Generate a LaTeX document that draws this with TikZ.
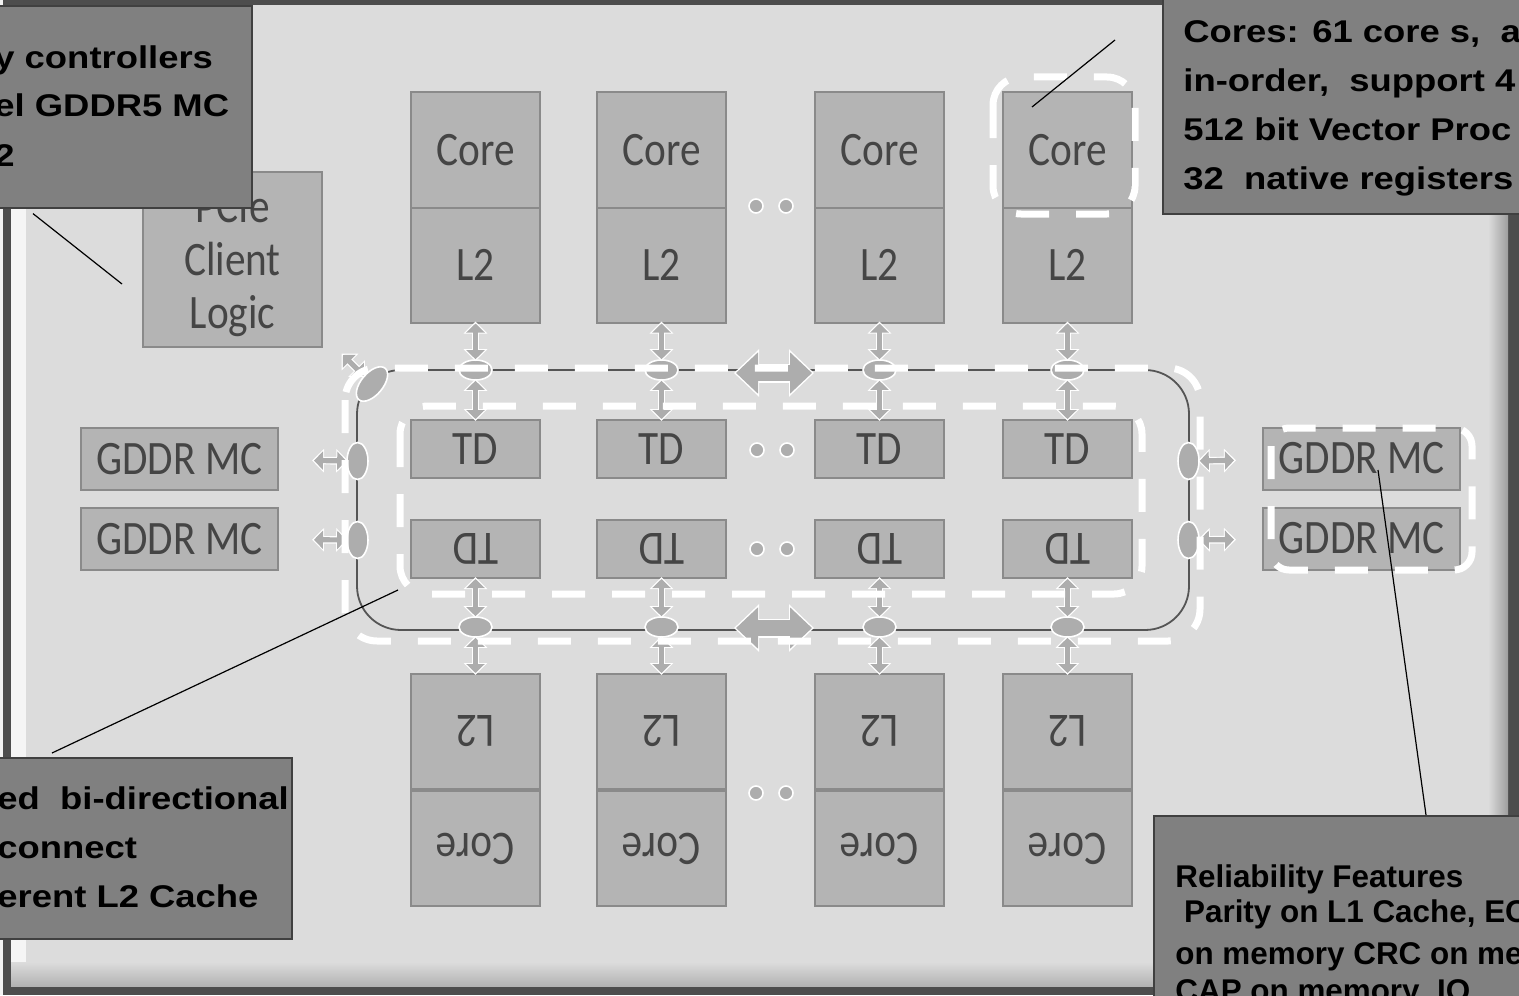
\documentclass[tikz,border=0pt]{standalone}
\usepackage{fontspec}
\setmainfont{Liberation Sans}
\newfontfamily\chipfont[FakeStretch=0.86]{Carlito}
\newfontfamily\notewide[FakeStretch=1.16]{Liberation Sans}
\newfontfamily\notefont{Liberation Sans}
\usepackage{tikz}
\usetikzlibrary{arrows.meta,positioning,shapes.geometric,calc}
\definecolor{chipbg}{HTML}{DCDCDC}
\definecolor{framedk}{HTML}{4D4D4D}
\definecolor{blockfill}{HTML}{B4B4B4}
\definecolor{blockline}{HTML}{8A8A8A}
\definecolor{blocktext}{HTML}{454545}
\definecolor{partgray}{HTML}{ADADAD}
\definecolor{notefill}{HTML}{808080}
\definecolor{ringline}{HTML}{555555}

\begin{document}
\begin{tikzpicture}[x=0.5pt,y=-0.5pt,>=Latex]
      \tikzset{blk/.style={draw=blockline,fill=blockfill,line width=1pt,inner sep=0pt,text=blocktext,align=center,font=\chipfont\fontsize{24}{26.5}\selectfont,minimum width=64.5pt,minimum height=57.5pt},
        td/.style={blk,minimum height=29pt},mc/.style={blk,minimum width=98.5pt,minimum height=31pt},
        joint/.style={ellipse,draw=white,line width=0.8pt,fill=partgray,inner sep=0pt,minimum width=16.5pt,minimum height=10pt},
        sjoint/.style={joint,minimum width=10.5pt,minimum height=18.5pt},
        dot/.style={circle,draw=white,line width=0.8pt,fill=partgray,inner sep=0pt,minimum size=7pt},
        arr/.style={draw=partgray,line width=2.6pt,{Triangle[width=9pt,length=4.5pt]}-{Triangle[width=9pt,length=4.5pt]}},
        arrw/.style={draw=white,line width=3.8pt,shorten <=-1pt,shorten >=-1pt,{Triangle[width=11.5pt,length=6pt]}-{Triangle[width=11.5pt,length=6pt]}},
        big/.style={draw=partgray,line width=8pt,{Triangle[width=20pt,length=11pt]}-{Triangle[width=20pt,length=11pt]}},
        bigw/.style={draw=white,line width=9.5pt,shorten <=-1pt,shorten >=-1pt,{Triangle[width=23pt,length=12.5pt]}-{Triangle[width=23pt,length=12.5pt]}},
        hl/.style={draw=white,line width=3.5pt,dash pattern=on 16.5pt off 13.5pt,rounded corners=14pt},
        note/.style={draw=black!75,line width=0.8pt,fill=notefill,inner sep=0pt},
        notetext/.style={inner sep=0pt,align=left,text=black,font=\notewide\bfseries\fontsize{15.7}{24.5}\selectfont},
        lead/.style={draw=black,line width=0.6pt}}
      \useasboundingbox (0,0) rectangle (1519,995);\clip (0,0) rectangle (1519,995);
      % chip frame
      \fill[framedk] (0,0) rectangle (1519,995);\fill[white!90!gray] (0,0) rectangle (3,995);\fill[chipbg] (11,5) rectangle (1508,986);
      \fill[white!92!gray] (11,5) rectangle (26,962);\shade[left color=chipbg,right color=black!38] (1488,5) rectangle (1508,986);\shade[top color=chipbg,bottom color=black!30] (11,962) rectangle (1508,986);
      \draw[ringline,line width=0.9pt,rounded corners=22pt] (357,370) rectangle (1189,630);
      % blocks
      \node[blk,minimum width=89.5pt,minimum height=87.5pt,text depth=0pt] (pcie) at (232.5,259.5) {PCIe\\Client\\Logic};
      \node[mc] (gl1) at (179.5,459) {GDDR MC};\node[mc] (gl2) at (179.5,539) {GDDR MC};
      \node[mc] (gr1) at (1361.5,458.5) {GDDR MC};\node[mc] (gr2) at (1361.5,538.5) {GDDR MC};
      \foreach \i/\x in {1/475.5,2/661.5,3/879.5,4/1067.5}{
        \node[blk] (k\i) at (\x,150) {Core};\node[blk,below=-1pt of k\i] (m\i) {L2};
        \node[td] (t\i) at (\x,449) {TD};\node[td,rotate=180] (u\i) at (\x,549) {TD};
        \node[blk,rotate=180] (v\i) at (\x,731.5) {L2};\node[blk,rotate=180] (w\i) at (\x,848.5) {Core};
        \node[joint] (ea\i) at (\x,370) {};\node[joint] (eb\i) at (\x,627) {};
        \foreach \a/\b in {m\i/ea\i,ea\i/t\i,u\i/eb\i,eb\i/v\i}{\draw[arrw] (\a)--(\b);\draw[arr] (\a)--(\b);}
      }
      \node[sjoint] (el1) at (357.5,461) {};\node[sjoint] (el2) at (357.5,540) {};
      \node[sjoint] (er1) at (1188.5,461) {};\node[sjoint] (er2) at (1188.5,540) {};
      \node[joint,minimum width=20.5pt,minimum height=11pt,rotate=50] (ec) at (372,384) {};
      \foreach \a/\b/\s in {el1/gl1/17.5,el2/gl2/17.5,er1/gr1/14,er2/gr2/14}{\draw[arrw,shorten >=\s pt-1pt] (\a)--(\b);\draw[arr,shorten >=\s pt] (\a)--(\b);}
      \coordinate (cx) at (343,355);\draw[arrw] (ec)--(cx);\draw[arr] (ec)--(cx);
      \coordinate (ha) at (736,373);\coordinate (hb) at (812,373);\coordinate (hc) at (736,628);\coordinate (hd) at (812,628);
      \foreach \a/\b in {ha/hb,hc/hd}{\draw[bigw] (\a)--(\b);\draw[big] (\a)--(\b);}
      \foreach \i/\x/\y in {1/756/206,2/786/206,3/757/450,4/787/450,5/757/549,6/787/549,7/756/793,8/786/793}{\node[dot] (d\i) at (\x,\y) {};}
      % highlights
      \draw[hl] (993,77) rectangle (1135,214);\draw[hl,rounded corners=16pt] (345,368) rectangle (1200,641);
      \draw[hl] (400,406) rectangle (1142,594);\draw[hl,rounded corners=9pt] (1271,428) rectangle (1472,570);
      % callouts
      \coordinate (p1) at (122,284);\coordinate (p2) at (1115,40);\coordinate (p3) at (398,590);
      \node[note,minimum width=150pt,minimum height=101pt,anchor=north east] (c1) at (253,5) {};
      \node[notetext,anchor=base west] (n1) at (-6,166) {y controllers\\el GDDR5 MC\\2};
      \node[note,minimum width=200pt,minimum height=109pt,anchor=north west] (c2) at (1162,-5) {};
      \node[notetext,anchor=base west] (n2) at (1183,189) {Cores: 61 core s,\ \ a\\in-order,\ \ support 4\\512 bit Vector Proc\\32\ \ native registers};
      \node[note,minimum width=160pt,minimum height=90.5pt,anchor=north east] (c3) at (293,757) {};
      \node[notetext,anchor=base west] (n3) at (-3,907) {ed\ \ bi-directional\\connect\\erent L2 Cache};
      \node[note,minimum width=200pt,minimum height=120pt,anchor=north west] (c4) at (1153,815) {};
      \node[notetext,font=\notefont\bfseries\fontsize{15.7}{17.5}\selectfont,anchor=base west] (n4) at (1175,1001) {Reliability Features\\[0pt]\ Parity on L1 Cache, EC\\[3.5pt]on memory CRC on me\\[1pt]CAP on memory\ \ IO};
      \draw[lead] ($(c1.south east)+(-220,5)$)--(p1);\draw[lead] (p2)--($(k4)+(-35.5,-43)$);
      \draw[lead] ($(c3.north east)+(-241,-4)$)--(p3);\draw[lead] ($(c4.north west)+(273,0)$)--($(gr1)+(16.5,11.5)$);
    \end{tikzpicture}
\end{document}
